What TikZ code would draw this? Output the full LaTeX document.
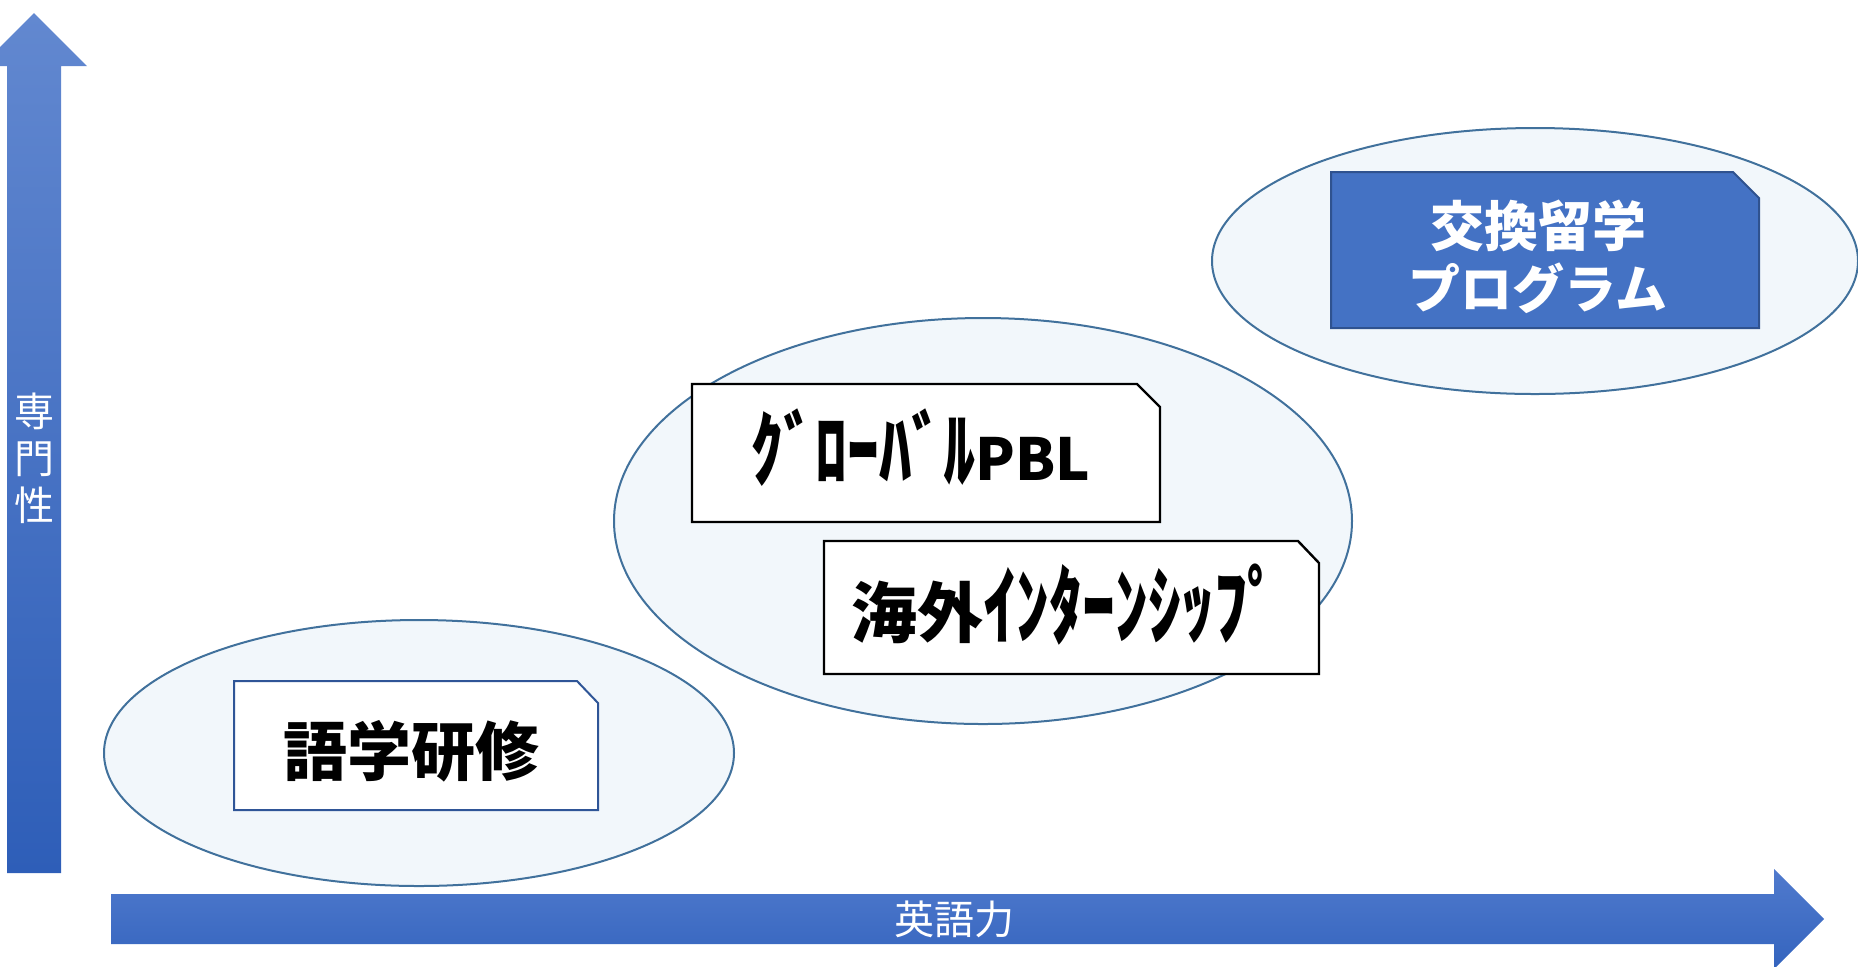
\documentclass[tikz,border=0pt]{standalone}
\usepackage{graphicx}
\usepackage{fontspec}
\setmainfont{Noto Sans CJK JP}
\usetikzlibrary{shapes.geometric}
\definecolor{ellfill}{RGB}{242,247,251}
\definecolor{elldraw}{RGB}{65,113,156}
\definecolor{boxblue}{RGB}{47,85,151}
\definecolor{darkfill}{RGB}{68,114,196}
\definecolor{darkline}{RGB}{47,82,143}
\definecolor{vtop}{RGB}{98,136,208}
\definecolor{vbot}{RGB}{46,94,184}
\definecolor{htop}{RGB}{80,122,205}
\definecolor{hbot}{RGB}{52,100,190}
\newcommand{\tallkana}[1]{\scalebox{1}[1.3]{#1}}
\tikzset{
  zone/.style={fill=ellfill, draw=elldraw, line width=1pt},
  cardpath/.style={fill=white, draw=black, line width=1.2pt, line join=miter},
  cardtext/.style={inner sep=0pt, text=black, font=\fontsize{32}{38}\selectfont\bfseries},
  axistext/.style={inner sep=0pt, text=white, font=\fontsize{20}{23.5}\selectfont}
}
\begin{document}
\begin{tikzpicture}[x=0.5pt,y=-0.5pt]
\useasboundingbox (0,0) rectangle (1858,966);
\begin{scope}
\clip (0,0) rectangle (1858,966);
% vertical axis arrow
\shade[top color=vtop, bottom color=vbot]
  (7,873) -- (7,66) -- (-19,66) -- (34,13) -- (87,66) -- (61,66) -- (61,873) -- cycle;
% horizontal axis arrow
\shade[top color=htop, bottom color=hbot]
  (111,894) -- (1774,894) -- (1774,869) -- (1824,919) -- (1774,969) -- (1774,944) -- (111,944) -- cycle;
% zones
\draw[zone] (419,753) ellipse [x radius=315, y radius=133];
\draw[zone] (983,521) ellipse [x radius=369, y radius=203];
\draw[zone] (1535,261) ellipse [x radius=323, y radius=133];
\end{scope}
% cards
\draw[cardpath, draw=boxblue, line width=1pt] (234,681) -- (577,681) -- (598,703) -- (598,810) -- (234,810) -- cycle;
\draw[cardpath] (692,384) -- (1137,384) -- (1160,407) -- (1160,522) -- (692,522) -- cycle;
\draw[cardpath] (824,541) -- (1298,541) -- (1319,563) -- (1319,674) -- (824,674) -- cycle;
\draw[fill=darkfill, draw=darkline, line width=1pt] (1331,172) -- (1733,172) -- (1759,198) -- (1759,328) -- (1331,328) -- cycle;
% texts
\node[cardtext] (gogaku) at (411,751) {語学研修};
\node[cardtext, anchor=base] (pbl) at (921,480) {\tallkana{ｸﾞﾛｰﾊﾞﾙ}{\fontsize{29}{34}\selectfont PBL}};
\node[cardtext, anchor=base, font=\fontsize{33}{39}\selectfont\bfseries] (intern) at (1066,637) {海外\tallkana{ｲﾝﾀｰﾝｼｯﾌﾟ}};
\node[inner sep=0pt, text=white, font=\fontsize{27}{31}\selectfont\bfseries] (koukan1) at (1538,226) {交換留学};
\node[inner sep=0pt, text=white, font=\fontsize{26}{31}\selectfont\bfseries] (koukan2) at (1538,288) {プログラム};
\node[axistext] (eigo) at (954,919) {英語力};
\node[axistext, align=center] (senmon) at (34,458) {専\\門\\性};
\end{tikzpicture}
\end{document}
